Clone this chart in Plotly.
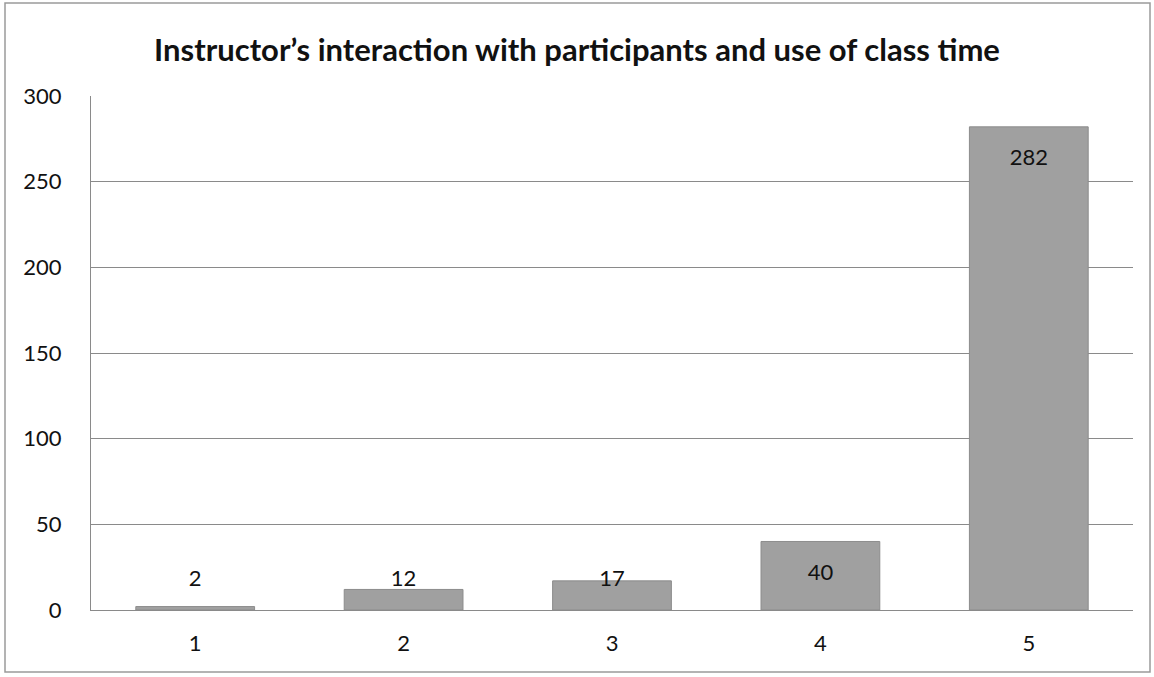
import plotly.graph_objects as go

categories = ["1", "2", "3", "4", "5"]
values = [2, 12, 17, 40, 282]
y_ticks = [0, 50, 100, 150, 200, 250, 300]
title_text = "Instructor’s interaction with participants and use of class time"

# label placement: inside near bar end, but not below a minimum height
label_y = [max(v - 19, 17) for v in values]

FONT = "Lato, Open Sans, sans-serif"

fig = go.Figure()
fig.add_trace(go.Bar(
    x=categories, y=values,
    marker=dict(color="#a0a0a0", line=dict(color="#8c8c8c", width=1)),
    width=0.57, hoverinfo="x+y", showlegend=False,
))
fig.add_trace(go.Scatter(
    x=categories, y=label_y, mode="text",
    text=[str(v) for v in values],
    textfont=dict(family=FONT, size=22, color="#111111"),
    hoverinfo="skip", showlegend=False,
))

fig.update_layout(
    width=1154, height=677,
    margin=dict(l=91, r=21, t=96, b=67),
    paper_bgcolor="white", plot_bgcolor="white",
    title=dict(text="<b>" + title_text + "</b>", x=0.5, xanchor="center",
               y=1 - 50 / 677, yanchor="middle",
               font=dict(family=FONT, size=31, color="#111111")),
    font=dict(family=FONT, size=22, color="#111111"),
    xaxis=dict(showgrid=False, showline=True, linecolor="#8a8a8a", linewidth=1,
               ticks="", ticklabelstandoff=14, tickfont=dict(size=22)),
    yaxis=dict(range=[0, 300], tickvals=y_ticks, showgrid=True, gridcolor="#8a8a8a",
               gridwidth=1, showline=True, linecolor="#8a8a8a", linewidth=1,
               zeroline=False, ticks="", ticklabelstandoff=24, tickfont=dict(size=22)),
    shapes=[dict(type="rect", xref="paper", yref="paper",
                 x0=(5 - 91) / 1042, x1=(1150 - 91) / 1042,
                 y0=(610 - 672) / 514, y1=(610 - 3) / 514,
                 line=dict(color="#9a9a9a", width=1.5), fillcolor="rgba(0,0,0,0)", layer="below")],
)

fig.write_html("out.html", config={"displayModeBar": False},
               post_script="document.body.style.margin='0';document.body.style.overflow='hidden';")
